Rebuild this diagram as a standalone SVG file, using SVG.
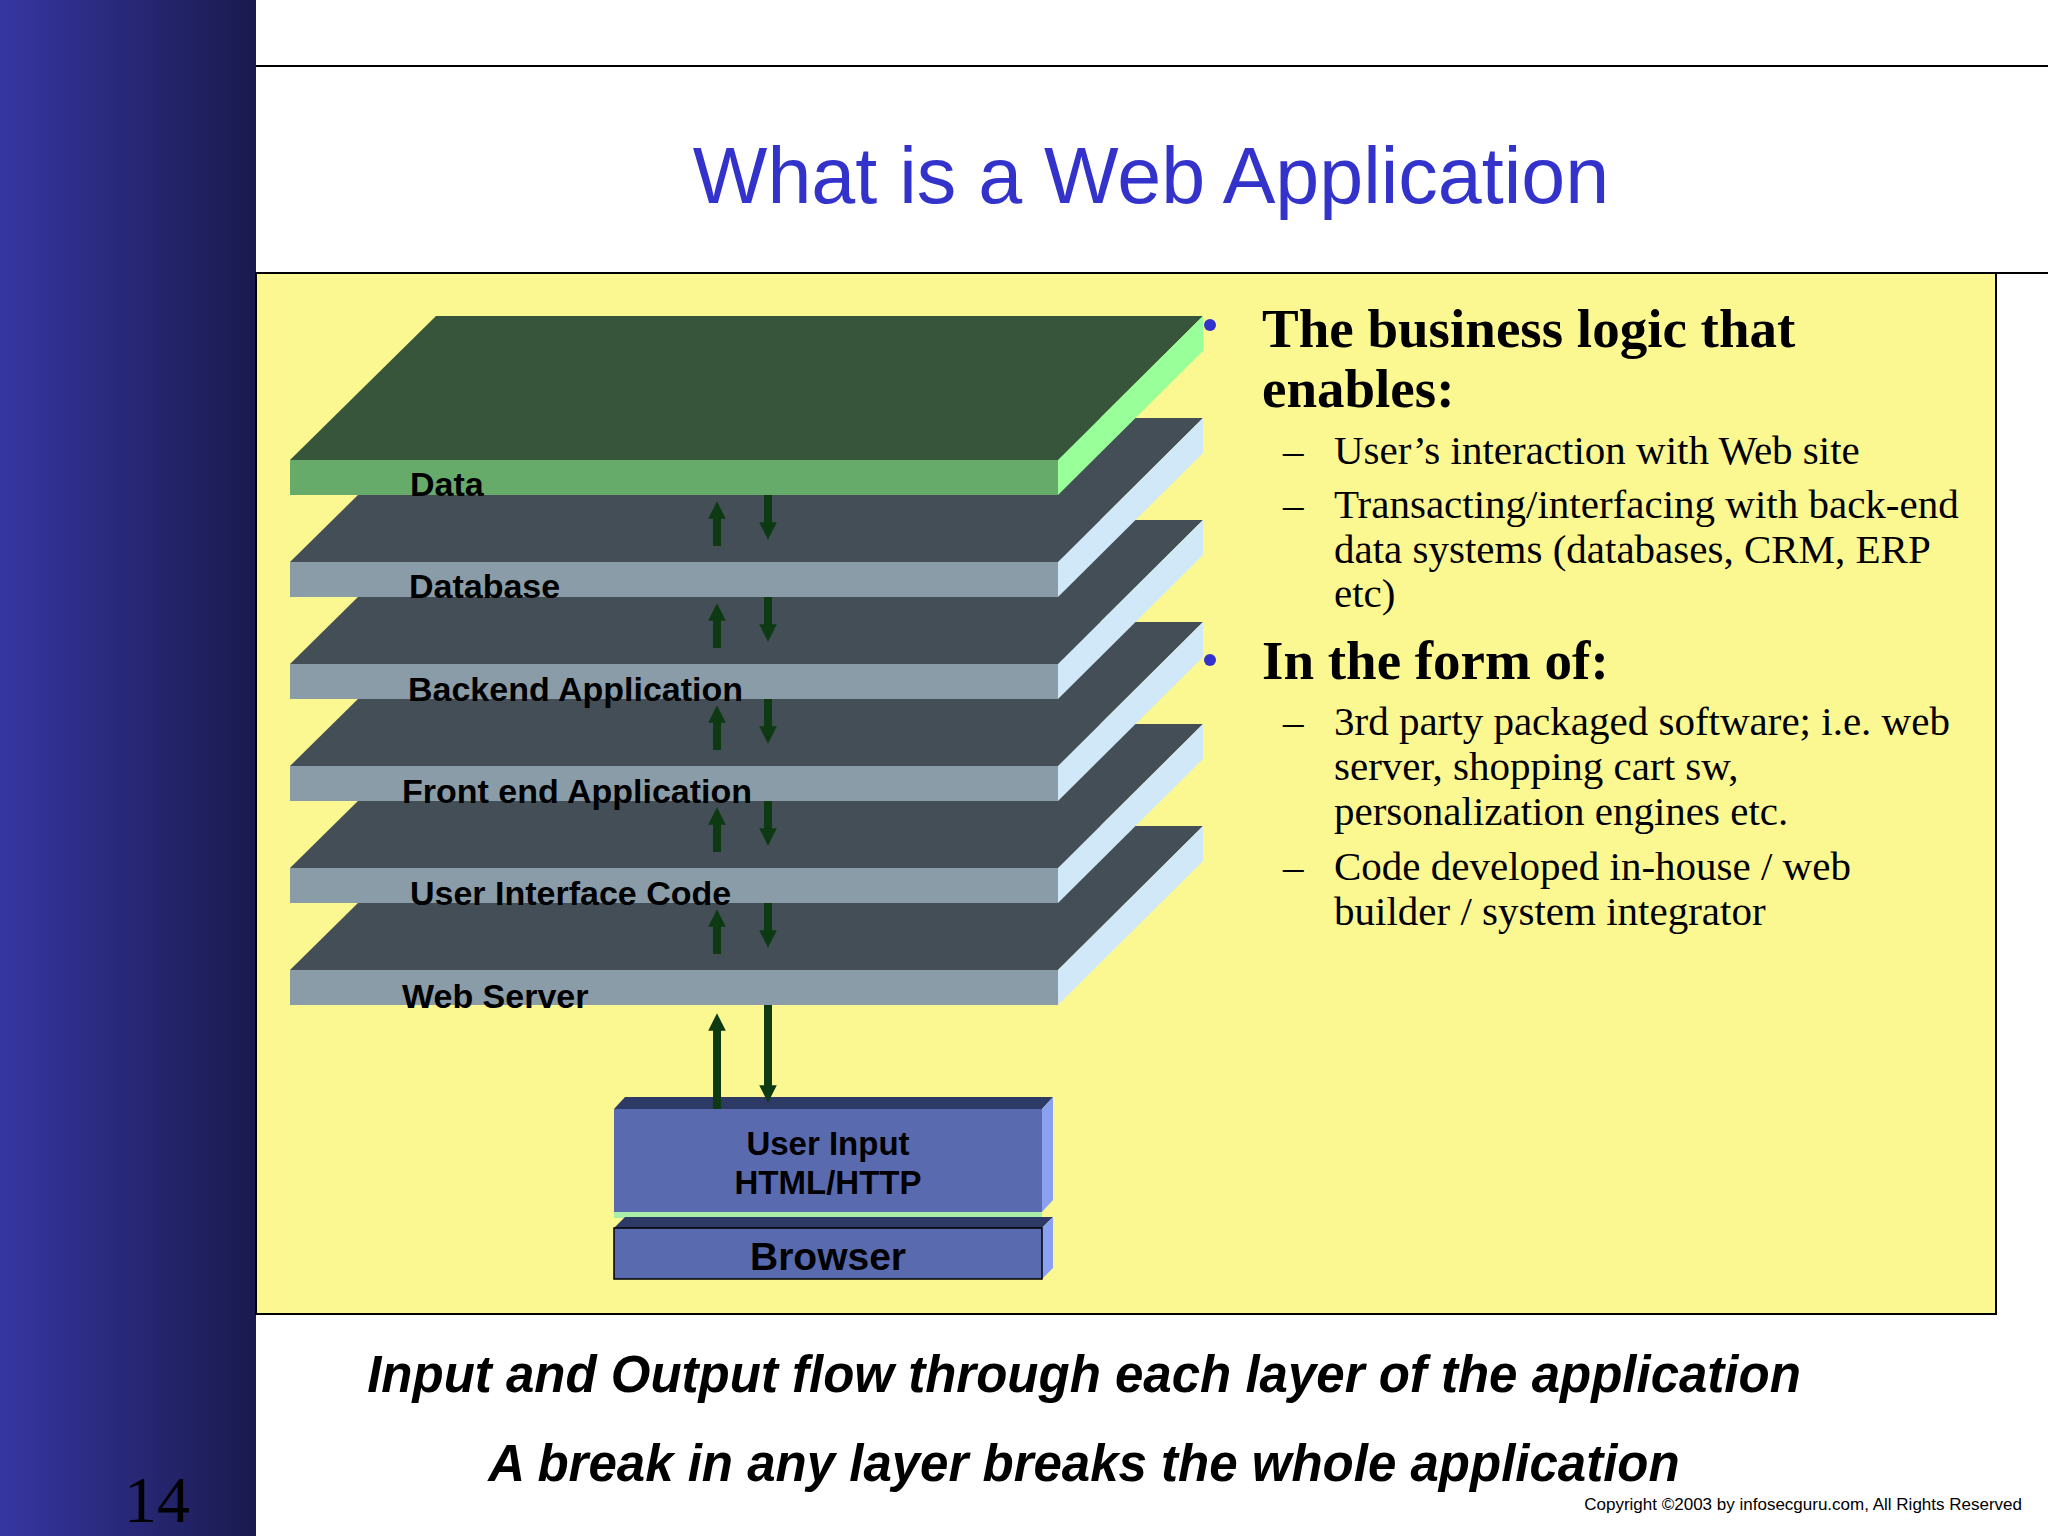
<svg xmlns="http://www.w3.org/2000/svg" width="2048" height="1536" viewBox="0 0 2048 1536">
<defs>
<linearGradient id="sb" x1="0" y1="0" x2="1" y2="0"><stop offset="0" stop-color="#3636a2"/><stop offset="1" stop-color="#1a1a4e"/></linearGradient>
<marker id="ah" viewBox="0 0 10 10" refX="5" refY="5" markerWidth="2.2" markerHeight="2.4" orient="auto"><path d="M0,0L10,5L0,10z" fill="#0d3a12"/></marker>
<style>
.top{fill:#434e57}.front{fill:#8a9ca8}.side{fill:#d0e8f8}
.lbl{font-family:"Liberation Sans",Arial,sans-serif;font-weight:bold;font-size:34px;fill:#000}
.arr{stroke:#0d3a12;stroke-width:8;marker-end:url(#ah)}
.t{font-family:"Liberation Serif","Times New Roman",serif;fill:#000}
.h{font-size:55px;font-weight:bold}.s{font-size:41px}
.bt{font-family:"Liberation Sans",Arial,sans-serif;font-weight:bold;font-style:italic;font-size:51px;text-anchor:middle}
</style>
</defs>
<rect width="2048" height="1536" fill="#fff"/>
<rect x="0" y="0" width="256" height="1536" fill="url(#sb)"/>
<line x1="256" y1="66" x2="2048" y2="66" stroke="#000" stroke-width="2"/>
<text x="1151" y="203" text-anchor="middle" font-family="Liberation Sans,Arial,sans-serif" font-size="79" fill="#3333cc">What is a Web Application</text>
<rect x="256" y="273" width="1740" height="1041" fill="#fcf891" stroke="#000" stroke-width="2"/>
<line x1="1996" y1="273" x2="2048" y2="273" stroke="#000" stroke-width="2"/>

<g id="webserver"><polygon class="top" points="290,970 1058,970 1203,826 436,826"/><polygon class="side" points="1058,970 1203,826 1203,861 1058,1005"/><rect class="front" x="290" y="970" width="768" height="35"/><text class="lbl" x="402" y="1008">Web Server</text></g>
<g id="uicode"><polygon class="top" points="290,868 1058,868 1203,724 436,724"/><polygon class="side" points="1058,868 1203,724 1203,759 1058,903"/><rect class="front" x="290" y="868" width="768" height="35"/><text class="lbl" x="410" y="905">User Interface Code</text></g>
<g id="frontend"><polygon class="top" points="290,766 1058,766 1203,622 436,622"/><polygon class="side" points="1058,766 1203,622 1203,657 1058,801"/><rect class="front" x="290" y="766" width="768" height="35"/><text class="lbl" x="402" y="803">Front end Application</text></g>
<g id="backend"><polygon class="top" points="290,664 1058,664 1203,520 436,520"/><polygon class="side" points="1058,664 1203,520 1203,555 1058,699"/><rect class="front" x="290" y="664" width="768" height="35"/><text class="lbl" x="408" y="701">Backend Application</text></g>
<g id="database"><polygon class="top" points="290,562 1058,562 1203,418 436,418"/><polygon class="side" points="1058,562 1203,418 1203,453 1058,597"/><rect class="front" x="290" y="562" width="768" height="35"/><text class="lbl" x="409" y="598">Database</text></g>
<g id="data"><polygon points="290,460 1058,460 1203,316 436,316" fill="#36553a"/><polygon points="1058,460 1203,316 1203,351 1058,495" fill="#99ff99"/><rect x="290" y="460" width="768" height="35" fill="#66ab6a"/><text class="lbl" x="410" y="496">Data</text></g>

<g id="browser">
<polygon points="614,1109 1042,1109 1053,1097 625,1097" fill="#2e3a66"/>
<polygon points="1042,1109 1053,1097 1053,1200 1042,1212" fill="#8aa0f0"/>
<rect x="614" y="1109" width="428" height="103" fill="#5a6aaf"/>
<rect x="614" y="1212" width="428" height="6" fill="#a8f0a8"/>
<polygon points="614,1228 1042,1228 1053,1217 625,1217" fill="#2e3a66"/>
<polygon points="1042,1228 1053,1217 1053,1268 1042,1279" fill="#8aa0f0"/>
<rect x="614" y="1228" width="428" height="51" fill="#5a6aaf" stroke="#000" stroke-width="1.5"/>
<text class="lbl" text-anchor="middle" style="font-size:33px"><tspan x="828" y="1155">User Input</tspan><tspan x="828" y="1194">HTML/HTTP</tspan></text>
<text class="lbl" x="828" y="1270" text-anchor="middle" style="font-size:39px">Browser</text>
</g>

<g id="connectors">
<line class="arr" x1="717" y1="546" x2="717" y2="510"/><line class="arr" x1="768" y1="495" x2="768" y2="531"/>
<line class="arr" x1="717" y1="648" x2="717" y2="612"/><line class="arr" x1="768" y1="597" x2="768" y2="633"/>
<line class="arr" x1="717" y1="750" x2="717" y2="714"/><line class="arr" x1="768" y1="699" x2="768" y2="735"/>
<line class="arr" x1="717" y1="852" x2="717" y2="816"/><line class="arr" x1="768" y1="801" x2="768" y2="837"/>
<line class="arr" x1="717" y1="954" x2="717" y2="918"/><line class="arr" x1="768" y1="903" x2="768" y2="939"/>
<line class="arr" x1="717" y1="1109" x2="717" y2="1022"/><line class="arr" x1="768" y1="1005" x2="768" y2="1094"/>
</g>

<g id="text">
<circle cx="1210" cy="325" r="6" fill="#3333cc"/>
<circle cx="1210" cy="660" r="6" fill="#3333cc"/>
<text class="t h" x="1262" y="347">The business logic that</text>
<text class="t h" x="1262" y="407">enables:</text>
<text class="t s" x="1283" y="464">–</text><text class="t s" x="1334" y="464">User’s interaction with Web site</text>
<text class="t s" x="1283" y="518">–</text><text class="t s" x="1334" y="518">Transacting/interfacing with back-end</text>
<text class="t s" x="1334" y="563">data systems (databases, CRM, ERP</text>
<text class="t s" x="1334" y="607">etc)</text>
<text class="t h" x="1262" y="679">In the form of:</text>
<text class="t s" x="1283" y="735">–</text><text class="t s" x="1334" y="735">3rd party packaged software; i.e. web</text>
<text class="t s" x="1334" y="780">server, shopping cart sw,</text>
<text class="t s" x="1334" y="825">personalization engines etc.</text>
<text class="t s" x="1283" y="880">–</text><text class="t s" x="1334" y="880">Code developed in-house / web</text>
<text class="t s" x="1334" y="925">builder / system integrator</text>
<text class="bt" x="1084" y="1392">Input and Output flow through each layer of the application</text>
<text class="bt" x="1084" y="1481">A break in any layer breaks the whole application</text>
<text x="2022" y="1510" text-anchor="end" font-family="Liberation Sans,Arial,sans-serif" font-size="17">Copyright  ©2003 by infosecguru.com, All Rights Reserved</text>
<text x="124" y="1522" font-family="Liberation Serif,Times New Roman,serif" font-size="66" fill="#000">14</text>
</g>
</svg>
